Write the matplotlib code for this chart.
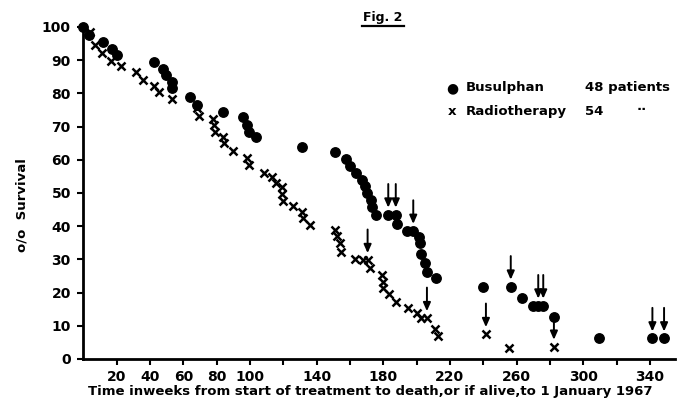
import matplotlib.pyplot as plt
from matplotlib.lines import Line2D

OUTPUT_PATH = "out.png"

# Busulphan group (weeks, % surviving); censored = alive at 1 Jan 1967 (arrow)
BUSULPHAN_WEEKS = [0, 3.5, 12, 17, 20, 42.5, 48, 49.5, 53, 53, 64, 68, 84, 96, 98, 99.5,
                   103.5, 131.5, 151, 157.5, 160, 163.5, 167.5, 169, 170, 172.5, 173.5,
                   175.5, 183, 187.5, 188.5, 194.5, 198, 201.5, 202, 202.5, 204.8, 206.5,
                   211.6, 240, 256.5, 263, 270, 273, 276, 282.5, 309.5, 341.5, 348.5]
BUSULPHAN_SURVIVAL = [100, 97.5, 95.5, 93.5, 91.5, 89.5, 87.5, 85.5, 83.5, 81.5, 79, 76.5,
                      74.5, 72.8, 70.5, 68.5, 66.8, 64, 62.3, 60.2, 58, 56, 54, 52, 50, 48,
                      45.8, 43.5, 43.5, 43.5, 40.8, 38.6, 38.6, 36.8, 34.8, 31.6, 28.8, 26.3,
                      24.3, 21.6, 21.8, 18.3, 16.1, 16.1, 16.1, 12.8, 6.4, 6.2, 6.2]
BUSULPHAN_CENSORED = [183, 187.5, 198, 256.5, 273, 276, 341.5, 348.5]

# Radiotherapy group
RADIO_WEEKS = [4, 7, 11, 16.5, 22.5, 31.5, 36, 42.5, 45.5, 53, 68, 69.5, 78, 78.4, 79, 83.6,
               84.4, 89.6, 98, 99.6, 108.4, 113, 115.6, 119.2, 119.4, 120, 126, 131, 131.6,
               136, 151, 152, 154, 154.4, 163, 168, 170.6, 172, 179, 179.6, 179.6, 183.6,
               187.6, 195, 200.2, 202.8, 206.2, 211, 213, 241.6, 255.6, 282.4]
RADIO_SURVIVAL = [98.5, 94.6, 92.3, 89.8, 88.3, 86.5, 84, 82.2, 80.5, 78.2, 75.5, 73.2, 72.3,
                  70.5, 68.3, 67, 65, 62.8, 60.4, 58.4, 55.9, 54.7, 52.9, 51.7, 49.7, 47.6,
                  46, 44.2, 42.4, 40.4, 38.9, 37, 35, 32.3, 30, 29.8, 29.8, 27.3, 25.3, 23.3,
                  21.3, 19.5, 17.3, 15.3, 13.8, 12.3, 12.3, 9.1, 6.8, 7.5, 3.4, 3.7]
RADIO_CENSORED = [170.6, 206.2, 241.6, 282.4]

X_TICKS = list(range(20, 341, 20))
X_LABELED = [20, 40, 60, 80, 100, 140, 180, 220, 260, 300, 340]
Y_TICKS = list(range(0, 101, 10))

FONT = "DejaVu Sans"


def add_arrows(ax, weeks, survival, censored):
    for w, s in zip(weeks, survival):
        if w in censored:
            ax.annotate("", xy=(w, s), xytext=(0, 22), textcoords="offset points",
                        arrowprops=dict(arrowstyle="-|>,head_length=0.5,head_width=0.22",
                                        color="black", lw=1.4, shrinkA=0, shrinkB=5),
                        annotation_clip=False)


def plot_survival():
    plt.rcParams["font.family"] = FONT
    fig = plt.figure(figsize=(6.8, 4.0), dpi=100)
    ax = fig.add_axes([0.1225, 0.1025, 0.87, 0.83])

    ax.plot(RADIO_WEEKS, RADIO_SURVIVAL, linestyle="none", marker="x", color="black",
            markersize=5.5, markeredgewidth=1.8, clip_on=False)
    ax.plot(BUSULPHAN_WEEKS, BUSULPHAN_SURVIVAL, linestyle="none", marker="o", color="black",
            markersize=6.8, clip_on=False)
    add_arrows(ax, BUSULPHAN_WEEKS, BUSULPHAN_SURVIVAL, BUSULPHAN_CENSORED)
    add_arrows(ax, RADIO_WEEKS, RADIO_SURVIVAL, RADIO_CENSORED)

    ax.set_xlim(0, 355)
    ax.set_ylim(0, 100)
    ax.set_xticks(X_TICKS)
    ax.set_xticklabels([str(t) if t in X_LABELED else "" for t in X_TICKS])
    ax.set_yticks(Y_TICKS)
    ax.tick_params(direction="out", length=4, width=1.5, labelsize=10, pad=4)
    ax.tick_params(axis="y", pad=5)
    for label in ax.get_xticklabels() + ax.get_yticklabels():
        label.set_fontweight("bold")

    for side in ["top", "right"]:
        ax.spines[side].set_visible(False)
    for side in ["left", "bottom"]:
        ax.spines[side].set_linewidth(2)

    # axis titles
    fig.text(22 / 680, 1 - 205 / 400, "o/o  Survival", rotation=90, ha="center", va="center",
             fontsize=9.5, fontweight="bold")
    fig.text(370 / 680, 1 - 391 / 400,
             "Time inweeks from start of treatment to death,or if alive,to 1 January 1967",
             ha="center", va="center", fontsize=9.5, fontweight="bold")

    # figure caption
    fig.text(383 / 680, 1 - 17 / 400, "Fig. 2", ha="center", va="center", fontsize=9,
             fontweight="bold")
    fig.add_artist(Line2D([362 / 680, 404 / 680], [1 - 26 / 400, 1 - 26 / 400],
                          color="black", lw=1.6))

    # key
    fig.text(452 / 680, 1 - 88 / 400, "●", ha="center", va="center", fontsize=10)
    fig.text(452 / 680, 1 - 111 / 400, "x", ha="center", va="center", fontsize=9.5,
             fontweight="bold")
    fig.text(466 / 680, 1 - 88 / 400, "Busulphan", va="center", fontsize=9.5, fontweight="bold")
    fig.text(466 / 680, 1 - 111 / 400, "Radiotherapy", va="center", fontsize=9.5,
             fontweight="bold")
    fig.text(585 / 680, 1 - 88 / 400, "48 patients", va="center", fontsize=9.5,
             fontweight="bold")
    fig.text(585 / 680, 1 - 111 / 400, "54", va="center", fontsize=9.5, fontweight="bold")
    fig.text(642 / 680, 1 - 110 / 400, "\u00b7\u00b7", ha="center", va="center", fontsize=9.5,
             fontweight="bold")

    fig.savefig(OUTPUT_PATH, dpi=100)
    plt.close(fig)


if __name__ == "__main__":
    plot_survival()
